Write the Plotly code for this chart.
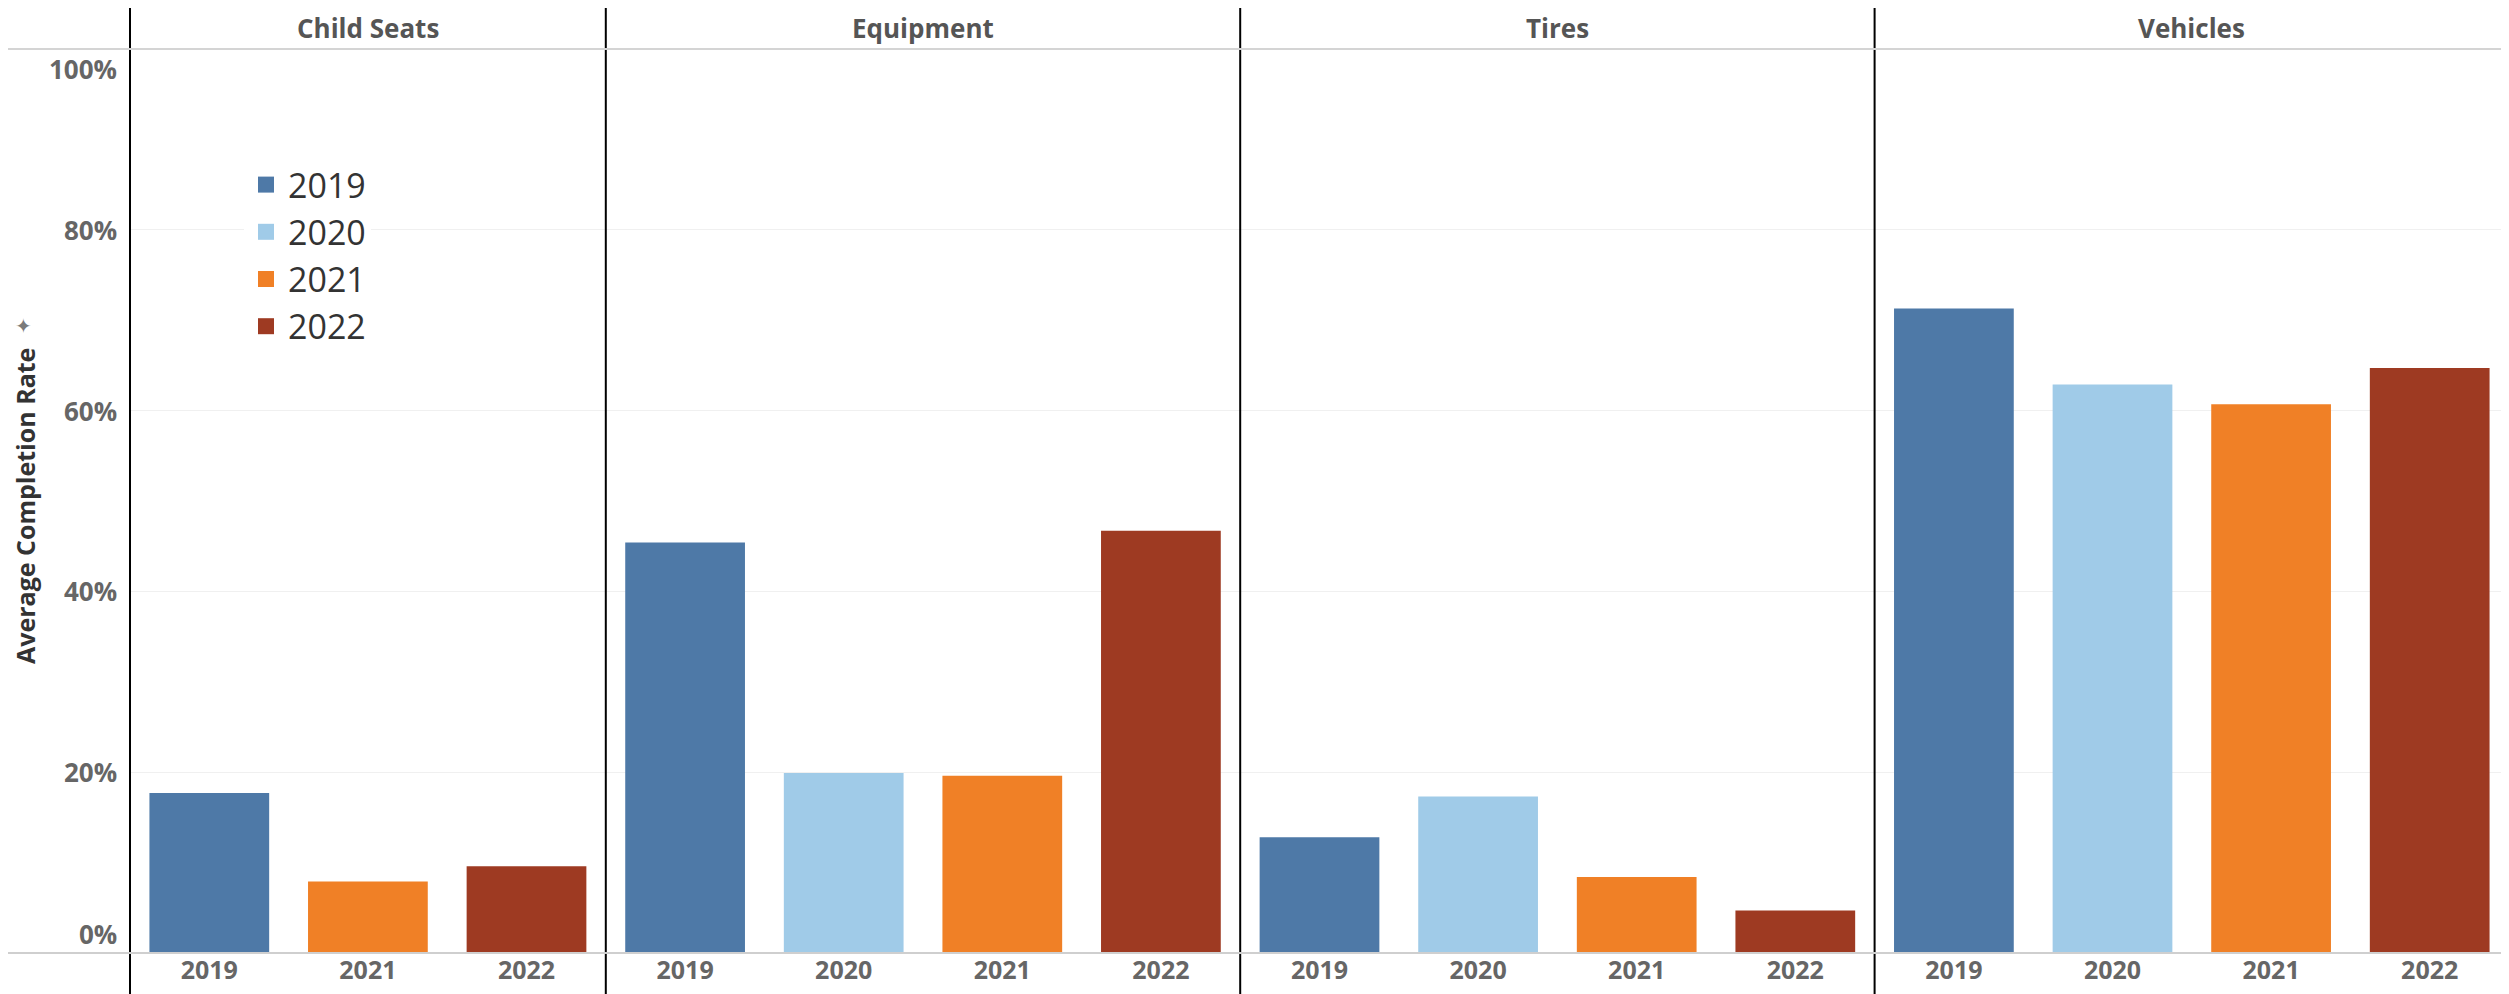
import plotly.graph_objects as go
from plotly.subplots import make_subplots

# data
panels = ['Child Seats', 'Equipment', 'Tires', 'Vehicles']
years = ['2019', '2020', '2021', '2022']
colors = {'2019': '#4E79A7', '2020': '#A0CBE8', '2021': '#F08026', '2022': '#9E3A22'}

child_seats_years = ['2019', '2021', '2022']
child_seats_rate = [0.177, 0.079, 0.096]
equipment_years = ['2019', '2020', '2021', '2022']
equipment_rate = [0.454, 0.199, 0.196, 0.467]
tires_years = ['2019', '2020', '2021', '2022']
tires_rate = [0.128, 0.173, 0.084, 0.047]
vehicles_years = ['2019', '2020', '2021', '2022']
vehicles_rate = [0.713, 0.629, 0.607, 0.647]

y_ticks = [0, 0.2, 0.4, 0.6, 0.8, 1.0]
y_tick_labels = ['0%', '20%', '40%', '60%', '80%', '100%']

panel_data = [
    (child_seats_years, child_seats_rate),
    (equipment_years, equipment_rate),
    (tires_years, tires_rate),
    (vehicles_years, vehicles_rate),
]

# the page body has an 8px margin, so the figure is drawn 8px in from the window edge
W, H = 2501, 986
L, R, T, B = 122, 0, 41, 41
plot_w = W - L - R
plot_h = H - T - B

FONT = 'Open Sans'

fig = make_subplots(rows=1, cols=4, shared_yaxes=True,
                    column_widths=[len(p[0]) for p in panel_data],
                    horizontal_spacing=0)

for i, (yrs, vals) in enumerate(panel_data):
    for yr, v in zip(yrs, vals):
        fig.add_trace(go.Bar(
            x=[yr], y=[v], marker_color=colors[yr], marker_line_width=0,
            showlegend=False, hovertemplate='%{x}: %{y:.1%}<extra></extra>',
        ), row=1, col=i + 1)

# legend entries (square markers)
for yr in years:
    fig.add_trace(go.Scatter(
        x=[None], y=[None], mode='markers', name=yr, legendgroup=yr,
        marker=dict(symbol='square', size=18, color=colors[yr]),
    ), row=1, col=1)

tick_font = dict(family=FONT, size=25, color='#666666', weight='bold')
fig.update_xaxes(type='category', showgrid=False, showline=False, zeroline=False,
                 ticks='', tickfont=tick_font, fixedrange=True)
for i, (yrs, _) in enumerate(panel_data):
    fig.update_xaxes(categoryorder='array', categoryarray=yrs, row=1, col=i + 1)

fig.update_yaxes(range=[0, 1], tickvals=y_ticks[1:-1], showticklabels=False,
                 showgrid=True, gridcolor='#f0f0f0', gridwidth=1,
                 zeroline=False, showline=False, fixedrange=True)

annotations = []
# y tick labels (Tableau nudges the end labels inwards)
for v, lab in zip(y_ticks, y_tick_labels):
    shift = 19 if v == 0 else (-20 if v == 1.0 else 0)
    annotations.append(dict(
        x=0, xref='paper', xanchor='right', xshift=-11,
        y=v, yref='y', yanchor='middle', yshift=shift,
        text=lab, showarrow=False,
        font=dict(family=FONT, size=26, color='#666666', weight='bold'),
    ))

shapes = []
for i, name in enumerate(panels):
    dom = fig.layout['xaxis' if i == 0 else f'xaxis{i + 1}'].domain
    annotations.append(dict(
        x=(dom[0] + dom[1]) / 2, xref='paper', xanchor='center',
        y=1, yref='paper', yshift=21, yanchor='middle',
        text=name, showarrow=False,
        font=dict(family=FONT, size=26, color='#555555', weight='bold'),
    ))
    shapes.append(dict(
        type='line', xref='paper', yref='paper',
        x0=dom[0], x1=dom[0], y0=-B / plot_h, y1=(plot_h + T) / plot_h,
        line=dict(color='black', width=2),
    ))

# top and bottom rules spanning the full width
for yv, col in [(1, '#d4d4d4'), (0, '#cfcfcf')]:
    shapes.append(dict(
        type='line', xref='paper', yref='paper', x0=-L / plot_w, x1=1,
        y0=yv, y1=yv, line=dict(color=col, width=2),
    ))

annotations.append(dict(
    x=0, xref='paper', xshift=-(L - 17), y=(945 - 498) / plot_h, yref='paper',
    text='Average Completion Rate', textangle=-90, showarrow=False,
    xanchor='center', yanchor='middle',
    font=dict(family=FONT, size=25, color='#333333', weight='bold'),
))
annotations.append(dict(
    x=0, xref='paper', xshift=-(L - 15), y=(945 - 318) / plot_h, yref='paper',
    text='✦', showarrow=False,
    xanchor='center', yanchor='middle',
    font=dict(family='DejaVu Sans', size=20, color='#7a7a7a'),
))

fig.update_layout(
    width=W, height=H,
    margin=dict(l=L, r=R, t=T, b=B),
    paper_bgcolor='white', plot_bgcolor='white',
    barmode='overlay', bargap=0.245,
    showlegend=True,
    legend=dict(x=(236 - L) / plot_w, y=(945 - 148) / plot_h,
                xanchor='left', yanchor='top', bgcolor='white',
                font=dict(family=FONT, size=34, color='#333333'),
                itemwidth=34, tracegroupgap=0,
                itemclick=False, itemdoubleclick=False),
    annotations=annotations,
    shapes=shapes,
)

fig.write_html('out.html')
